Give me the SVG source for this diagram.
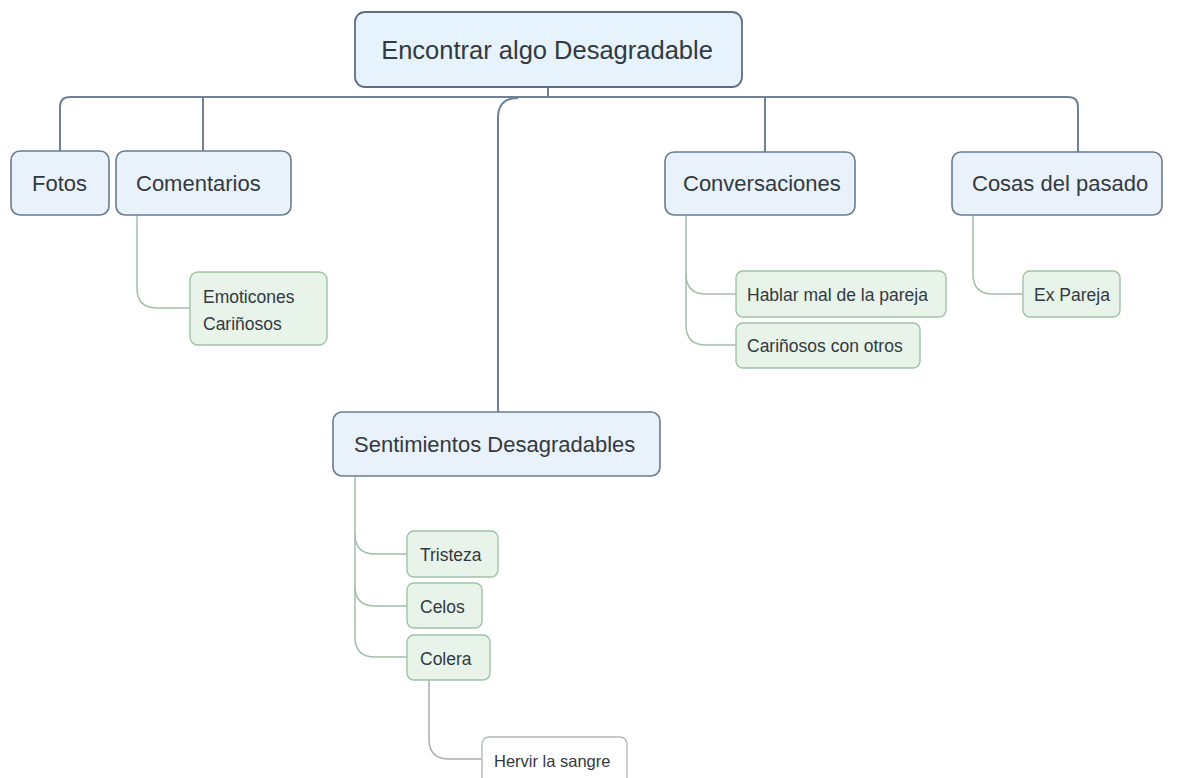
<svg xmlns="http://www.w3.org/2000/svg" width="1188" height="778" viewBox="0 0 1188 778">
<style>
.main rect{fill:#e9f1fa;stroke:#6a7b8c;stroke-width:1.6}
.root rect{fill:#e6f2fc;stroke:#5f6f80;stroke-width:1.8}
.sub rect{fill:#e8f3ea;stroke:#9fc2a6;stroke-width:1.4}
.leaf rect{fill:#ffffff;stroke:#b5b9bc;stroke-width:1.4}
text{font-family:"Liberation Sans",Arial,sans-serif;fill:#33393f}
.main text{font-size:22px}
.root text{font-size:25.5px}
.sub text{font-size:17.5px}
.leaf text{font-size:16.5px}
.c1 path{fill:none;stroke:#6e8294;stroke-width:2}
.c2 path{fill:none;stroke:#a3bfa9;stroke-width:1.5}
.c3 path{fill:none;stroke:#aab0b4;stroke-width:1.5}
</style>
<rect width="1188" height="778" fill="#ffffff"/>
<g id="connectors">
<g class="c1">
<path d="M548,87 V97"/>
<path d="M60,151 V107 Q60,97 70,97 H1068 Q1078,97 1078,107 V152"/>
<path d="M203,97 V151"/>
<path d="M765,97 V152"/>
<path d="M518,98 Q498,98 498,118 V412"/>
</g>
<g class="c2">
<path d="M137,215 V288 Q137,308 157,308 H190"/>
<path d="M686,215 V325 Q686,345 706,345 H736"/>
<path d="M686,274 Q686,294 706,294 H736"/>
<path d="M973,215 V274 Q973,294 993,294 H1023"/>
<path d="M355,476 V637 Q355,657 375,657 H407"/>
<path d="M355,534 Q355,554 375,554 H407"/>
<path d="M355,586 Q355,606 375,606 H407"/>
</g>
<g class="c3">
<path d="M429,680 V739 Q429,759 449,759 H482"/>
</g>
</g>
<g id="root" class="root"><rect x="355" y="12" width="387" height="75" rx="10"/><text x="547" y="59" text-anchor="middle">Encontrar algo Desagradable</text></g>
<g id="fotos" class="main"><rect x="11" y="151" width="98" height="64" rx="9"/><text x="32" y="191">Fotos</text></g>
<g id="comentarios" class="main"><rect x="116" y="151" width="175" height="64" rx="9"/><text x="136" y="191">Comentarios</text></g>
<g id="conversaciones" class="main"><rect x="665" y="152" width="190" height="63" rx="9"/><text x="683" y="191">Conversaciones</text></g>
<g id="cosas" class="main"><rect x="952" y="152" width="210" height="63" rx="9"/><text x="972" y="191">Cosas del pasado</text></g>
<g id="sentimientos" class="main"><rect x="333" y="412" width="327" height="64" rx="9"/><text x="354" y="452">Sentimientos Desagradables</text></g>
<g id="emoticones" class="sub"><rect x="190" y="272" width="137" height="73" rx="8"/><text x="203" y="303">Emoticones</text><text x="203" y="330">Cariñosos</text></g>
<g id="hablar" class="sub"><rect x="736" y="271" width="210" height="46" rx="7"/><text x="747" y="301">Hablar mal de la pareja</text></g>
<g id="carinosos" class="sub"><rect x="736" y="323" width="184" height="45" rx="7"/><text x="747" y="352">Cariñosos con otros</text></g>
<g id="expareja" class="sub"><rect x="1023" y="271" width="97" height="46" rx="7"/><text x="1034" y="301">Ex Pareja</text></g>
<g id="tristeza" class="sub"><rect x="407" y="531" width="91" height="46" rx="7"/><text x="420" y="561">Tristeza</text></g>
<g id="celos" class="sub"><rect x="407" y="583" width="75" height="45" rx="7"/><text x="420" y="613">Celos</text></g>
<g id="colera" class="sub"><rect x="407" y="635" width="83" height="45" rx="7"/><text x="420" y="665">Colera</text></g>
<g id="hervir" class="leaf"><rect x="482" y="737" width="145" height="50" rx="7"/><text x="494" y="767">Hervir la sangre</text></g>
</svg>
